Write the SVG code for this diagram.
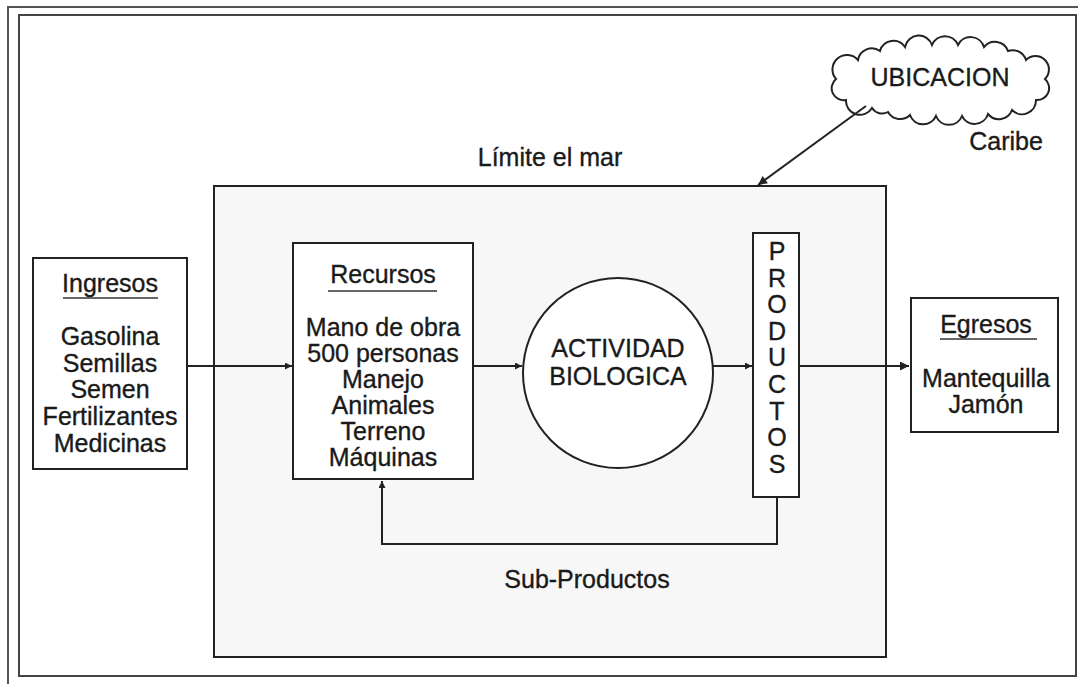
<svg xmlns="http://www.w3.org/2000/svg" width="1078" height="684" viewBox="0 0 1078 684">
<defs>
<style>
.t{font-family:"Liberation Sans",Arial,sans-serif;font-size:25px;fill:#1a1a1a;text-anchor:middle;stroke:#1a1a1a;stroke-width:0.35}
.box{fill:#fff;stroke:#222;stroke-width:2}
.ln{fill:none;stroke:#222;stroke-width:2}
.ul{stroke:#333;stroke-width:1.5}
</style>
<marker id="ah" viewBox="0 0 10 10" refX="10" refY="5" markerWidth="7" markerHeight="7" markerUnits="userSpaceOnUse" orient="auto">
<path d="M0,0 L10,5 L0,10 z" fill="#222"/>
</marker>
<marker id="ahb" viewBox="0 0 10 10" refX="10" refY="5" markerWidth="11" markerHeight="9" markerUnits="userSpaceOnUse" orient="auto">
<path d="M0,0 L10,5 L0,10 z" fill="#222"/>
</marker>
</defs>
<rect width="1078" height="684" fill="#fff"/>
<!-- frames -->
<path d="M8,684 L8,7 L1078,7" fill="none" stroke="#555" stroke-width="2"/>
<rect x="19" y="15" width="1057" height="661" fill="none" stroke="#444" stroke-width="2"/>

<g id="limite">
<rect x="214" y="186" width="672" height="471" fill="#f7f7f7" stroke="#222" stroke-width="2"/>
<text class="t" x="550" y="166">Límite el mar</text>
</g>

<g id="ubicacion">
<path class="box" d="M872,108 A14 14 0 0 1 846,100 A12 12 0 0 1 836,79 A13 13 0 0 1 858,60 A14 14 0 0 1 880,51 A14 14 0 0 1 905,47 A14 14 0 0 1 932,45 A14 14 0 0 1 958,45 A14 14 0 0 1 984,47 A14 14 0 0 1 1008,51 A14 14 0 0 1 1026,60 A13 13 0 0 1 1045,79 A12 12 0 0 1 1036,100 A14 14 0 0 1 1012,110 A14 14 0 0 1 988,114 A14 14 0 0 1 962,116 A14 14 0 0 1 936,116 A14 14 0 0 1 910,115 A14 14 0 0 1 888,112 A12 12 0 0 1 872,108 Z"/>
<text class="t" x="940" y="86">UBICACION</text>
<text class="t" x="1006" y="150">Caribe</text>
</g>

<g id="ingresos">
<rect class="box" x="33" y="258" width="154" height="211"/>
<text class="t" x="110" y="292">Ingresos</text>
<line class="ul" x1="63" y1="298" x2="158" y2="298"/>
<text class="t" x="110" y="345">Gasolina</text>
<text class="t" x="110" y="372">Semillas</text>
<text class="t" x="110" y="398">Semen</text>
<text class="t" x="110" y="425">Fertilizantes</text>
<text class="t" x="110" y="452">Medicinas</text>
</g>

<g id="recursos">
<rect class="box" x="293" y="243" width="180" height="236"/>
<text class="t" x="383" y="283">Recursos</text>
<line class="ul" x1="328" y1="291" x2="437" y2="291"/>
<text class="t" x="383" y="336">Mano de obra</text>
<text class="t" x="383" y="362">500 personas</text>
<text class="t" x="383" y="388">Manejo</text>
<text class="t" x="383" y="414">Animales</text>
<text class="t" x="383" y="440">Terreno</text>
<text class="t" x="383" y="466">Máquinas</text>
</g>

<g id="actividad">
<circle class="box" cx="618" cy="373" r="95"/>
<text class="t" x="618" y="357">ACTIVIDAD</text>
<text class="t" x="618" y="385">BIOLOGICA</text>
</g>

<g id="productos">
<rect class="box" x="753" y="233" width="46" height="264"/>
<text class="t" x="777" y="260">P</text>
<text class="t" x="777" y="287">R</text>
<text class="t" x="777" y="313">O</text>
<text class="t" x="777" y="340">D</text>
<text class="t" x="777" y="366">U</text>
<text class="t" x="777" y="393">C</text>
<text class="t" x="777" y="420">T</text>
<text class="t" x="777" y="446">O</text>
<text class="t" x="777" y="473">S</text>
</g>

<g id="egresos">
<rect class="box" x="911" y="298" width="147" height="134"/>
<text class="t" x="986" y="333">Egresos</text>
<line class="ul" x1="940" y1="339" x2="1037" y2="339"/>
<text class="t" x="986" y="387">Mantequilla</text>
<text class="t" x="986" y="413">Jamón</text>
</g>

<g id="connectors">
<line class="ln" x1="187" y1="366" x2="292" y2="366" marker-end="url(#ah)"/>
<line class="ln" x1="473" y1="366" x2="522" y2="366" marker-end="url(#ah)"/>
<line class="ln" x1="713" y1="366" x2="752" y2="366" marker-end="url(#ah)"/>
<line class="ln" x1="799" y1="366" x2="909" y2="366" marker-end="url(#ahb)"/>
<path class="ln" d="M777,497 L777,544 L382,544 L382,481" marker-end="url(#ah)"/>
<line class="ln" x1="866" y1="106" x2="758" y2="185" marker-end="url(#ahb)"/>
<text class="t" x="587" y="588">Sub-Productos</text>
</g>
</svg>
